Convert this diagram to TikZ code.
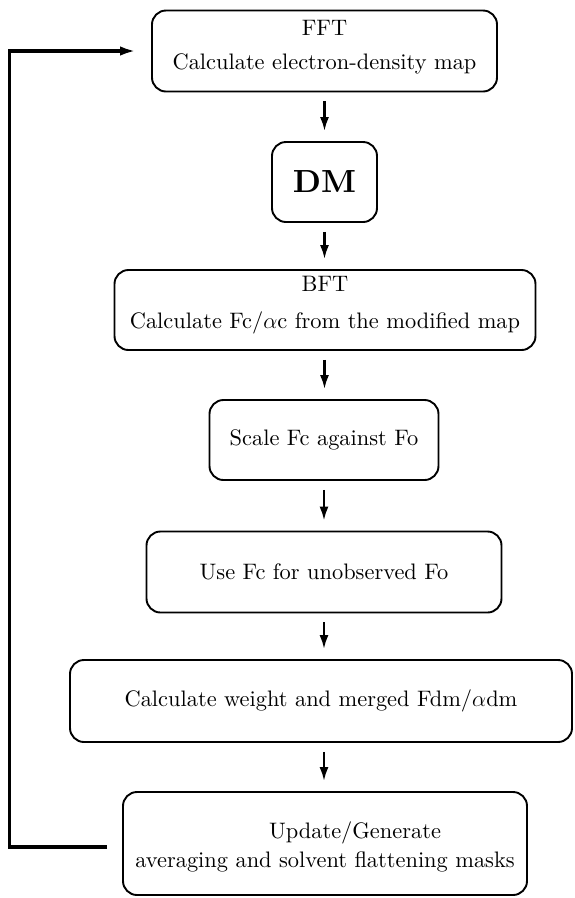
\RequirePackage{fix-cm}
\documentclass[tikz,border=0pt]{standalone}
\usepackage{fontspec}
\setmainfont{Latin Modern Roman}[OpticalSize=10]
\usetikzlibrary{arrows.meta}
\begin{document}
\begin{tikzpicture}[x=1pt,y=-1pt,
  box/.style={draw, rounded corners=14pt, line width=1.9pt, align=center, inner sep=0pt,
              font=\fontsize{22.4}{34}\selectfont},
  flow/.style={line width=2.3pt, -{Latex[length=14pt,width=9pt]}, shorten <=9pt, shorten >=10pt},
  feedback/.style={line width=3.6pt, -{Latex[length=16pt,width=9.5pt]}}]
\useasboundingbox (0,0) rectangle (574,898);
\node[box, minimum width=345pt, minimum height=81pt] (fft) at (324.5,51)
  {FFT\\Calculate electron-density map\rule[-13pt]{0pt}{13pt}};
\node[box, minimum width=105pt, minimum height=80pt, font=\fontsize{32}{32}\selectfont\bfseries] (dm) at (324.5,182) {DM};
\node[box, minimum width=421pt, minimum height=80pt, font=\fontsize{22.4}{37}\selectfont] (bft) at (325,310)
  {BFT\\Calculate Fc/$\alpha$c from the modified map\rule[-16pt]{0pt}{16pt}};
\node[box, minimum width=229pt, minimum height=80pt] (scale) at (324,440) {Scale Fc against Fo};
\node[box, minimum width=355pt, minimum height=81pt] (use) at (324,572) {Use Fc for unobserved Fo};
\node[box, minimum width=502pt, minimum height=82pt] (calc) at (321,701) {Calculate weight and merged Fdm/$\alpha$dm};
\node[box, minimum width=404pt, minimum height=103pt, font=\fontsize{22.4}{29}\selectfont] (upd) at (325,843.5)
  {\hspace*{60pt}\rule{0pt}{23pt}Update/Generate\\averaging and solvent flattening masks};

\draw[flow] (fft.south) -- (fft.south |- dm.north);
\draw[flow] (dm.south) -- (dm.south |- bft.north);
\draw[flow] (dm.south |- bft.south) -- (dm.south |- scale.north);
\draw[flow] (scale.south) -- (scale.south |- use.north);
\draw[flow] (use.south) -- (use.south |- calc.north);
\draw[flow] (use.south |- calc.south) -- (use.south |- upd.north);

\coordinate (fbstart) at ([xshift=-15pt,yshift=-3.5pt]upd.west);
\coordinate (fbend) at ([xshift=-15pt]fft.west);
\coordinate (fbleft) at (9.5,0);
\draw[feedback] (fbstart) -| (fbleft |- fbend) -- (fbend);
\end{tikzpicture}
\end{document}
